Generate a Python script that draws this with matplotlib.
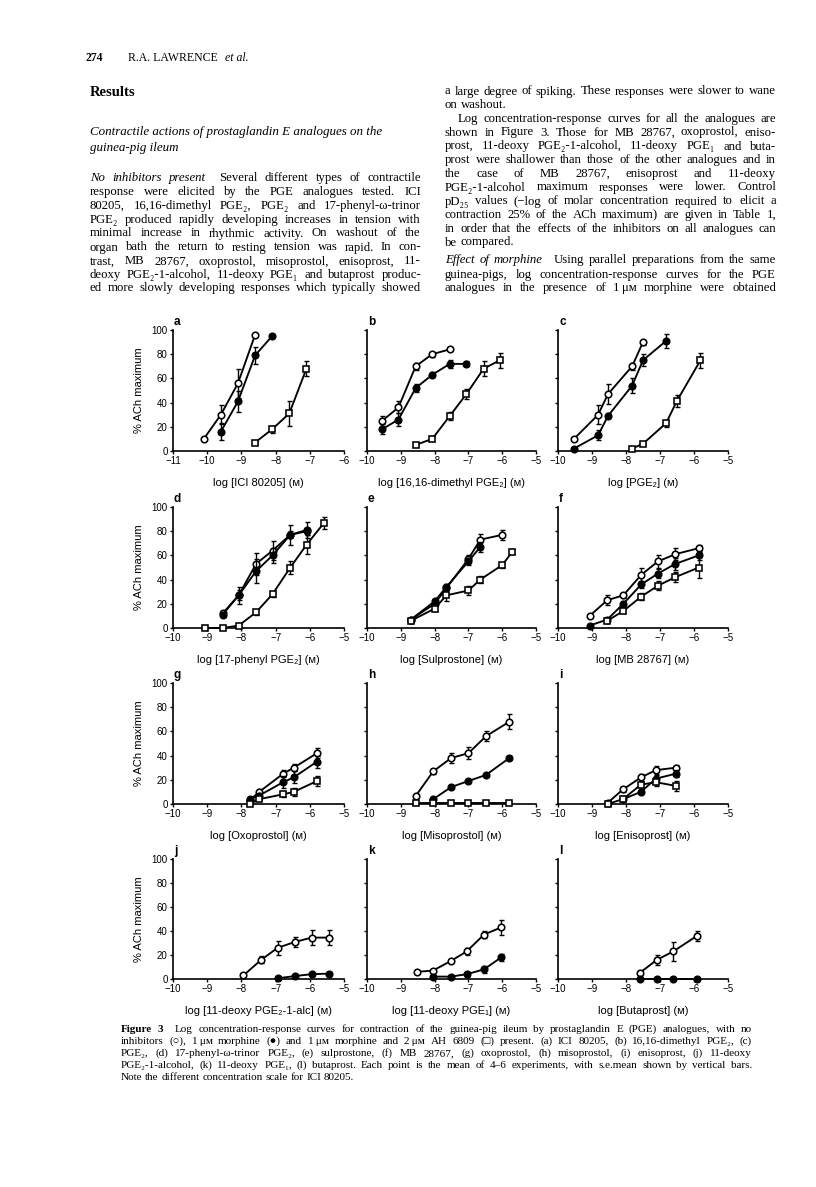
import matplotlib
matplotlib.use('Agg')
import matplotlib.pyplot as plt
from matplotlib.ticker import FuncFormatter

# ---------------- data (log molar concentration, % ACh maximum, s.e.mean) -------------
# series: ctrl = no inhibitors (open circles), morph = 1 uM morphine (filled circles),
#         ah = 1 uM morphine + 2 uM AH 6809 (open squares)
a_conc = [-10.1, -9.6, -9.1, -8.6, -8.1, -7.6, -7.1]
a_ctrl = [10, 30, 56, 96, None, None, None]
a_ctrl_sem = [1, 8, 12, 1, None, None, None]
a_morph = [None, 16, 41, 79, 95, None, None]
a_morph_sem = [None, 7, 9, 7, 2, None, None]
a_ah = [None, None, None, 7, 18, 31, 68]
a_ah_sem = [None, None, None, 1, 3, 10, 6]

b_conc = [-9.55, -9.07, -8.56, -8.07, -7.55, -7.06, -6.55, -6.07]
b_ctrl = [25, 36, 70, 80, 84, None, None, None]
b_ctrl_sem = [4, 5, 3, 2, 1, None, None, None]
b_morph = [18, 26, 52, 63, 72, 72, None, None]
b_morph_sem = [4, 5, 3, 2, 3, 2, None, None]
b_ah = [None, None, 5, 10, 29, 47, 68, 75]
b_ah_sem = [None, None, 1, 2, 3, 4, 6, 6]

c_conc = [-9.53, -8.82, -8.53, -7.82, -7.5, -6.82, -6.51, -5.81]
c_ctrl = [10, 30, 47, 70, 90, None, None, None]
c_ctrl_sem = [1, 8, 8, 3, 2, None, None, None]
c_morph = [2, 13, 29, 54, 75, 91, None, None]
c_morph_sem = [1, 4, 2, 6, 5, 6, None, None]
c_ah = [None, None, None, 2, 6, 23, 41, 75]
c_ah_sem = [None, None, None, 1, 1, 3, 5, 6]

d_conc = [-9.06, -8.55, -8.08, -7.57, -7.09, -6.57, -6.09, -5.58]
d_ctrl = [None, 12, 27, 53, 64, 77, 80, None]
d_ctrl_sem = [None, 2, 4, 9, 8, 3, 3, None]
d_morph = [None, 11, 27, 47, 60, 77, 81, None]
d_morph_sem = [None, 2, 7, 10, 6, 8, 7, None]
d_ah = [0, 0, 2, 13, 28, 50, 69, 87]
d_ah_sem = [0, 0, 1, 2, 2, 5, 8, 5]

e_conc = [-8.7, -8.0, -7.65, -7.0, -6.65, -6.0, -5.7]
e_ctrl = [7, 20, 33, 57, 73, 77, None]
e_ctrl_sem = [1, 2, 2, 3, 5, 4, None]
e_morph = [7, 22, 34, 55, 67, None, None]
e_morph_sem = [1, 2, 2, 3, 4, None, None]
e_ah = [6, 16, 27, 31, 40, 52, 63]
e_ah_sem = [1, 2, 5, 4, 3, 2, 2]

f_conc = [-9.07, -8.55, -8.08, -7.55, -7.06, -6.55, -5.86]
f_ctrl = [10, 23, 27, 44, 55, 61, 66]
f_ctrl_sem = [1, 4, 2, 6, 5, 5, 3]
f_morph = [2, 7, 20, 36, 45, 53, 60]
f_morph_sem = [1, 1, 2, 3, 4, 5, 4]
f_ah = [None, 6, 14, 26, 35, 42, 50]
f_ah_sem = [None, 1, 2, 3, 4, 4, 9]

g_conc = [-7.76, -7.48, -6.78, -6.47, -5.79]
g_ctrl = [3, 10, 25, 30, 42]
g_ctrl_sem = [1, 2, 3, 3, 4]
g_morph = [4, 7, 18, 22, 35]
g_morph_sem = [1, 2, 5, 5, 5]
g_ah = [0, 4, 8, 10, 19]
g_ah_sem = [0, 1, 2, 3, 4]

h_conc = [-8.55, -8.04, -7.51, -7.0, -6.48, -5.79]
h_ctrl = [7, 27, 38, 42, 56, 68]
h_ctrl_sem = [1, 2, 4, 5, 4, 6]
h_morph = [None, 4, 14, 19, 24, 38]
h_morph_sem = [None, 1, 2, 2, 2, 2]
h_ah = [1, 1, 1, 1, 1, 1]
h_ah_sem = [0, 0, 0, 0, 0, 0]

i_conc = [-8.54, -8.09, -7.56, -7.12, -6.54]
i_ctrl = [1, 12, 22, 28, 30]
i_ctrl_sem = [1, 2, 3, 3, 2]
i_morph = [None, 4, 10, 21, 25]
i_morph_sem = [None, 1, 2, 3, 3]
i_ah = [0, 4, 16, 18, 15]
i_ah_sem = [0, 1, 2, 3, 4]

j_conc = [-7.94, -7.42, -6.94, -6.42, -5.95, -5.43]
j_ctrl = [3, 16, 26, 31, 34.5, 34.5]
j_ctrl_sem = [1, 3, 6, 4, 6, 6]
j_morph = [None, None, 0.6, 2.5, 4, 4.5]
j_morph_sem = [None, None, 0.5, 1, 1, 1.5]
j_ah = [None, None, None, None, None, None]
j_ah_sem = [None, None, None, None, None, None]

k_conc = [-8.52, -8.05, -7.52, -7.05, -6.54, -6.03]
k_ctrl = [6, 7, 15, 23, 37, 43]
k_ctrl_sem = [1, 1, 1, 3, 3, 6]
k_morph = [None, 2, 2, 4, 8, 18]
k_morph_sem = [None, 1, 1, 2, 3, 3]
k_ah = [None, None, None, None, None, None]
k_ah_sem = [None, None, None, None, None, None]

l_conc = [-7.6, -7.09, -6.61, -5.91]
l_ctrl = [5, 16, 23, 36]
l_ctrl_sem = [1, 4, 8, 4]
l_morph = [0, 0, 0, 0]
l_morph_sem = [0, 0, 0, 0]
l_ah = [None, None, None, None]
l_ah_sem = [None, None, None, None]

panel_letters = list('abcdefghijkl')
x_labels = [
    'log [ICI 80205] (\u1d0d)', 'log [16,16-dimethyl PGE\u2082] (\u1d0d)', 'log [PGE\u2082] (\u1d0d)',
    'log [17-phenyl PGE\u2082] (\u1d0d)', 'log [Sulprostone] (\u1d0d)', 'log [MB 28767] (\u1d0d)',
    'log [Oxoprostol] (\u1d0d)', 'log [Misoprostol] (\u1d0d)', 'log [Enisoprost] (\u1d0d)',
    'log [11-deoxy PGE\u2082-1-alc] (\u1d0d)', 'log [11-deoxy PGE\u2081] (\u1d0d)', 'log [Butaprost] (\u1d0d)',
]
x_min = [-11, -10, -10, -10, -10, -10, -10, -10, -10, -10, -10, -10]
y_ticks = [0, 20, 40, 60, 80, 100]
y_label = '% ACh maximum'

# ---------------- page text ----------------
header_num = '274'
header_auth = 'R.A. LAWRENCE'
header_etal = 'et al.'
results_title = 'Results'
heading_lines = ['Contractile actions of prostaglandin E analogues on the', 'guinea-pig ileum']
left_lines = [
    [('No inhibitors present', 'italic'), ('Several different types of contractile', 'normal')],
    'response were elicited by the PGE analogues tested. ICI',
    '80205, 16,16-dimethyl PGE\u2082, PGE\u2082 and 17-phenyl-\u03c9-trinor',
    'PGE\u2082 produced rapidly developing increases in tension with',
    'minimal increase in rhythmic activity. On washout of the',
    'organ bath the return to resting tension was rapid. In con-',
    'trast, MB 28767, oxoprostol, misoprostol, enisoprost, 11-',
    'deoxy PGE\u2082-1-alcohol, 11-deoxy PGE\u2081 and butaprost produc-',
    'ed more slowly developing responses which typically showed',
]
right_lines = [
    'a large degree of spiking. These responses were slower to wane',
    'on washout.',
    'Log concentration-response curves for all the analogues are',
    'shown in Figure 3. Those for MB 28767, oxoprostol, eniso-',
    'prost, 11-deoxy PGE\u2082-1-alcohol, 11-deoxy PGE\u2081 and buta-',
    'prost were shallower than those of the other analogues and in',
    'the case of MB 28767, enisoprost and 11-deoxy',
    'PGE\u2082-1-alcohol maximum responses were lower. Control',
    'pD\u2082\u2085 values (\u2212log of molar concentration required to elicit a',
    'contraction 25% of the ACh maximum) are given in Table 1,',
    'in order that the effects of the inhibitors on all analogues can',
    'be compared.',
    [('Effect of morphine', 'italic'), ('Using parallel preparations from the same', 'normal')],
    'guinea-pigs, log concentration-response curves for the PGE',
    'analogues in the presence of 1\u2009\u03bc\u1d0d morphine were obtained',
]
caption_lines = [
    [('Figure 3', 'bold'), ('Log concentration-response curves for contraction of the guinea-pig ileum by prostaglandin E (PGE) analogues, with no', 'normal')],
    'inhibitors (\u25cb), 1\u2009\u03bc\u1d0d morphine (\u25cf) and 1\u2009\u03bc\u1d0d morphine and 2\u2009\u03bc\u1d0d AH 6809 (\u25a1) present. (a) ICI 80205, (b) 16,16-dimethyl PGE\u2082, (c)',
    'PGE\u2082, (d) 17-phenyl-\u03c9-trinor PGE\u2082, (e) sulprostone, (f) MB 28767, (g) oxoprostol, (h) misoprostol, (i) enisoprost, (j) 11-deoxy',
    'PGE\u2082-1-alcohol, (k) 11-deoxy PGE\u2081, (l) butaprost. Each point is the mean of 4\u20136 experiments, with s.e.mean shown by vertical bars.',
    'Note the different concentration scale for ICI 80205.',
]

# ---------------- figure ----------------
W, H = 816, 1187
SANS = ['Liberation Sans', 'DejaVu Sans']
SERIF = ['Liberation Serif', 'DejaVu Serif', 'DejaVu Sans']
plt.rcParams['font.family'] = SANS
plt.rcParams['axes.unicode_minus'] = True

fig = plt.figure(figsize=(W / 100, H / 100), dpi=100)
fig.patch.set_facecolor('white')
renderer = fig.canvas.get_renderer()


def fx(x):
    return x / W


def fy(y):
    return 1 - y / H


def words_of(line, base_style='normal'):
    segs = line if isinstance(line, list) else [(line, base_style)]
    out = []
    for si, (txt, st) in enumerate(segs):
        ws = txt.split(' ')
        for wi, w in enumerate(ws):
            if not w:
                continue
            extra = 6 if (si < len(segs) - 1 and wi == len(ws) - 1) else 0
            out.append((w, st, extra))
    return out


def make_word(w, st, size, y):
    kw = dict(fontsize=size, family=SERIF, va='baseline', ha='left')
    if st == 'italic':
        kw['style'] = 'italic'
    elif st == 'bold':
        kw['weight'] = 'bold'
    return fig.text(0, fy(y), w, **kw)


def block(lines, x0, x1, ys, size, justify_flags, indents=None, base_style='normal'):
    # measure natural widths to choose a common size that fits the column
    space_px = size * 100 / 72 * 0.25
    nat = []
    tmp = []
    for line in lines:
        ws = words_of(line, base_style)
        objs = [make_word(w, st, size, 0) for w, st, e in ws]
        wd = sum(o.get_window_extent(renderer).width for o in objs) + space_px * (len(objs) - 1)
        wd += sum(e for _, _, e in ws)
        nat.append(wd)
        tmp.extend(objs)
    for o in tmp:
        o.remove()
    avail = x1 - x0
    scale = min(1.0, min((avail - 5) / n for n in nat))
    size = size * scale
    space_px = size * 100 / 72 * 0.25
    for li, line in enumerate(lines):
        ws = words_of(line, base_style)
        ind = indents[li] if indents else 0
        objs = [make_word(w, st, size, ys[li]) for w, st, e in ws]
        widths = [o.get_window_extent(renderer).width for o in objs]
        extras = [e for _, _, e in ws]
        if justify_flags[li] and len(objs) > 1:
            gap = (avail - ind - sum(widths) - sum(extras)) / (len(objs) - 1)
        else:
            gap = space_px
        x = x0 + ind
        for o, wd, e in zip(objs, widths, extras):
            o.set_x(fx(x))
            x += wd + gap + e


# header
fig.text(fx(86), fy(61), header_num, fontsize=8.5, family=SERIF, weight='bold', va='baseline')
fig.text(fx(128), fy(61), header_auth, fontsize=8.5, family=SERIF, va='baseline')
fig.text(fx(225), fy(61), header_etal, fontsize=8.5, family=SERIF, style='italic', va='baseline')
fig.text(fx(90), fy(96), results_title, fontsize=10.5, family=SERIF, weight='bold', va='baseline')
for yy, t in zip([135.5, 150.5], heading_lines):
    fig.text(fx(90), fy(yy), t, fontsize=9.4, family=SERIF, style='italic', va='baseline')

left_ys = [181, 195, 209, 223, 236.5, 250.5, 264.5, 278, 291]
block(left_lines, 90, 421, left_ys, 9.2, [True] * 9)
right_ys = [94.5, 108, 122, 135.5, 149.5, 163, 177, 190.5, 204.5, 218, 232, 245.5, 263, 278, 291]
right_just = [True, False] + [True] * 9 + [False] + [True] * 3
right_ind = [0, 0, 13] + [0] * 12
block(right_lines, 445, 776, right_ys, 9.2, right_just, right_ind)

cap_ys = [1032, 1043.5, 1056, 1068, 1080.5]
block(caption_lines, 121, 752, cap_ys, 8.0, [True, True, True, True, False])

# ---------------- panels ----------------
col_x = [(173, 344), (367, 536), (558, 728)]
row_y = [(330, 451), (507, 628), (683, 804), (859, 979)]

all_data = [
    (a_conc, a_ctrl, a_ctrl_sem, a_morph, a_morph_sem, a_ah, a_ah_sem),
    (b_conc, b_ctrl, b_ctrl_sem, b_morph, b_morph_sem, b_ah, b_ah_sem),
    (c_conc, c_ctrl, c_ctrl_sem, c_morph, c_morph_sem, c_ah, c_ah_sem),
    (d_conc, d_ctrl, d_ctrl_sem, d_morph, d_morph_sem, d_ah, d_ah_sem),
    (e_conc, e_ctrl, e_ctrl_sem, e_morph, e_morph_sem, e_ah, e_ah_sem),
    (f_conc, f_ctrl, f_ctrl_sem, f_morph, f_morph_sem, f_ah, f_ah_sem),
    (g_conc, g_ctrl, g_ctrl_sem, g_morph, g_morph_sem, g_ah, g_ah_sem),
    (h_conc, h_ctrl, h_ctrl_sem, h_morph, h_morph_sem, h_ah, h_ah_sem),
    (i_conc, i_ctrl, i_ctrl_sem, i_morph, i_morph_sem, i_ah, i_ah_sem),
    (j_conc, j_ctrl, j_ctrl_sem, j_morph, j_morph_sem, j_ah, j_ah_sem),
    (k_conc, k_ctrl, k_ctrl_sem, k_morph, k_morph_sem, k_ah, k_ah_sem),
    (l_conc, l_ctrl, l_ctrl_sem, l_morph, l_morph_sem, l_ah, l_ah_sem),
]

minus_fmt = FuncFormatter(lambda v, p: ('%d' % v).replace('-', '\u2212'))


def draw_series(ax, conc, vals, sems, marker, mfc, z):
    pts = [(c, v, s) for c, v, s in zip(conc, vals, sems) if v is not None]
    if not pts:
        return
    xs = [p[0] for p in pts]
    ys = [p[1] for p in pts]
    es = [p[2] or 0 for p in pts]
    eb = ax.errorbar(xs, ys, yerr=es, fmt='none', ecolor='black', elinewidth=1.0,
                     capsize=1.8, capthick=1.0, zorder=z)
    for art in eb.lines[1] + eb.lines[2]:
        art.set_clip_on(False)
    ax.plot(xs, ys, '-', color='black', lw=1.35, marker=marker, markersize=4.7 if marker == 'o' else 4.5,
            mfc=mfc, mec='black', mew=1.15, zorder=z + 0.5, clip_on=False)


for idx in range(12):
    r, c = divmod(idx, 3)
    x0, x1 = col_x[c]
    yt, yb = row_y[r]
    ax = fig.add_axes([fx(x0), fy(yb), (x1 - x0) / W, (yb - yt) / H])
    conc, ctrl, ctrl_sem, morph, morph_sem, ah, ah_sem = all_data[idx]
    draw_series(ax, conc, ctrl, ctrl_sem, 'o', 'white', 3)
    draw_series(ax, conc, morph, morph_sem, 'o', 'black', 4)
    draw_series(ax, conc, ah, ah_sem, 's', 'white', 5)
    xm = x_min[idx]
    ax.set_xlim(xm, xm + 5)
    ax.set_ylim(0, 100)
    ax.set_xticks(list(range(xm, xm + 6)))
    ax.set_yticks(y_ticks)
    ax.xaxis.set_major_formatter(minus_fmt)
    for s in ['top', 'right']:
        ax.spines[s].set_visible(False)
    for s in ['left', 'bottom']:
        ax.spines[s].set_linewidth(1.2)
    ax.tick_params(direction='out', length=2.4, width=1.0, labelsize=7.0, pad=1.5)
    ax.patch.set_alpha(0)
    if c != 0:
        ax.set_yticklabels([])
    else:
        ax.set_ylabel(y_label, fontsize=8.0)
        ax.yaxis.set_label_coords((144 - x0) / (x1 - x0), 0.5)
    ax.set_xlabel(x_labels[idx], fontsize=8.0)
    ax.xaxis.set_label_coords(0.5, -27.0 / (yb - yt))
    fig.text(fx(x0 + 1), fy(yt - 8), panel_letters[idx], fontsize=8.5, weight='bold',
             ha='left', va='center')

fig.savefig('out.png', dpi=100, facecolor='white')
